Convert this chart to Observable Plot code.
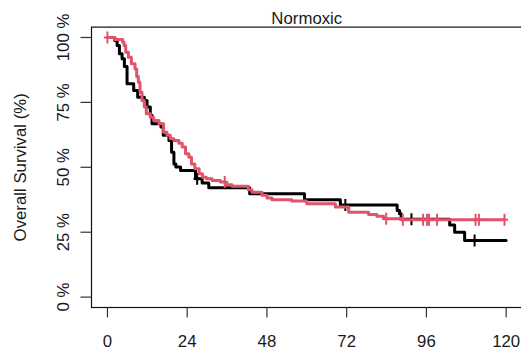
<!DOCTYPE html>
<html><head><meta charset="utf-8">
<script src="https://cdn.jsdelivr.net/npm/d3@7"></script>
<script src="https://cdn.jsdelivr.net/npm/@observablehq/plot@0.6"></script>
<style>
body{margin:0;background:#fff;}
#chart{width:521px;height:358px;overflow:hidden;}
</style></head><body><div id="chart"></div>
<script>
const title = "Normoxic";
const yLabel = "Overall Survival (%)";
const xTicks = [0, 24, 48, 72, 96, 120];
const yTicks = [0, 25, 50, 75, 100];

// Group 1 (black): event times (months) and survival (%) after each step
const blackTimes = [0, 2.2, 2.9, 3.6, 4.4, 5.1, 5.9, 7.9, 9.1, 11.1, 11.9, 12.9, 13.4, 16.1, 16.8, 18.5, 19.3, 20.0, 20.6, 22.0, 26.5, 28.5, 30.5, 42.8, 59.3, 70.1, 87.2, 87.9, 88.4, 103.0, 104.5, 107.5];
const blackSurv  = [100, 98.8, 96.9, 93.7, 91.8, 88.8, 82.2, 79.6, 77.0, 75.7, 73.2, 70.0, 66.8, 65.5, 62.3, 60.3, 55.8, 51.3, 50.1, 48.8, 45.6, 44.0, 42.1, 39.8, 37.5, 35.5, 33.4, 32.1, 30.0, 27.8, 25.0, 21.8];
const blackEnd = 120;
const blackCensor = [27.0, 71.6, 91.5, 110.5];

// Group 2 (red)
const redTimes = [0, 2.2, 4.6, 5.0, 5.5, 6.3, 7.2, 8.3, 8.8, 9.3, 9.8, 10.4, 11.1, 11.7, 12.9, 13.9, 15.5, 16.9, 17.9, 18.9, 20.0, 21.5, 22.5, 23.5, 24.5, 25.3, 26.3, 27.6, 28.6, 29.8, 31.5, 34.0, 35.5, 37.5, 42.4, 43.5, 46.5, 48.0, 49.5, 55.5, 60.0, 68.6, 72.6, 78.6, 81.1, 83.1, 88.6];
const redSurv  = [100, 99.2, 98.2, 96.9, 94.3, 92.4, 89.9, 87.9, 85.0, 82.8, 78.9, 75.7, 73.2, 70.6, 69.3, 68.0, 66.8, 63.5, 62.3, 61.0, 60.3, 59.3, 57.8, 55.2, 53.9, 51.3, 49.4, 47.5, 46.2, 45.6, 44.9, 44.3, 43.3, 42.7, 41.4, 40.4, 39.2, 38.2, 37.5, 37.0, 36.0, 34.7, 32.7, 31.8, 31.1, 30.2, 29.8];
const redEnd = 119.5;
const redCensor = [0, 35.3, 83.9, 88.9, 95.0, 96.2, 96.8, 99.2, 110.8, 111.8, 119.5];

const blackColor = "#000000";
const redColor = "#DF536B";

function curvePoints(times, surv, end) {
  const pts = times.map((t, i) => ({t, s: surv[i]}));
  pts.push({t: end, s: surv[surv.length - 1]});
  return pts;
}
function stepAt(times, surv, t) {
  let s = surv[0];
  for (let i = 0; i < times.length; i++) if (times[i] <= t) s = surv[i];
  return s;
}
const blackPts = curvePoints(blackTimes, blackSurv, blackEnd);
const redPts = curvePoints(redTimes, redSurv, redEnd);
const blackMarks = blackCensor.map(t => ({t, s: stepAt(blackTimes, blackSurv, t)}));
const redMarks = redCensor.map(t => ({t, s: stepAt(redTimes, redSurv, t)}));

const plusSymbol = {
  draw(ctx, size) {
    const r = Math.sqrt(size / Math.PI);
    const h = r * 0.6;
    ctx.moveTo(-h, 0); ctx.lineTo(h, 0);
    ctx.moveTo(0, -r); ctx.lineTo(0, r);
  }
};

const font = "'Liberation Sans', Arial, Helvetica, sans-serif";
const fs = 16.8;
const textColor = "#1a1a1a";

const chart = Plot.plot({
  width: 521,
  height: 358,
  marginLeft: 91,
  marginRight: -0.6,
  marginTop: 26.6,
  marginBottom: 51,
  style: {fontFamily: font, fontSize: fs + "px", color: textColor, background: "#fff", overflow: "hidden"},
  x: {domain: [-4.8, 124.8]},
  y: {domain: [-4, 104]},
  marks: [
    Plot.frame({stroke: "#111", strokeWidth: 1.2}),
    Plot.axisX({ticks: xTicks, tickSize: 10.5, tickPadding: 17.3, label: null, fontSize: fs, stroke: "#333", strokeWidth: 1.2, fill: textColor}),
    Plot.axisY({ticks: yTicks, tickSize: 10.5, tickFormat: () => "", label: null, stroke: "#333", strokeWidth: 1.2}),
    Plot.text(yTicks, {y: d => d, text: d => d + " %", frameAnchor: "left", rotate: -90, textAnchor: "middle", lineAnchor: "bottom", dx: -23, fontSize: fs, fill: textColor}),
    Plot.text([yLabel], {text: d => d, frameAnchor: "left", rotate: -90, textAnchor: "middle", lineAnchor: "bottom", dx: -66, fontSize: fs, fill: textColor}),
    Plot.text([title], {text: d => d, frameAnchor: "top", lineAnchor: "bottom", dy: -3, fontSize: fs, fill: textColor}),
    Plot.line(blackPts, {x: "t", y: "s", curve: "step-after", stroke: blackColor, strokeWidth: 3}),
    Plot.dot(blackMarks, {x: "t", y: "s", symbol: plusSymbol, r: 6, stroke: blackColor, strokeWidth: 2, fill: "none"}),
    Plot.line(redPts, {x: "t", y: "s", curve: "step-after", stroke: redColor, strokeWidth: 3}),
    Plot.dot(redMarks, {x: "t", y: "s", symbol: plusSymbol, r: 6, stroke: redColor, strokeWidth: 2, fill: "none"})
  ]
});
document.getElementById("chart").appendChild(chart);
</script>
</body></html>
